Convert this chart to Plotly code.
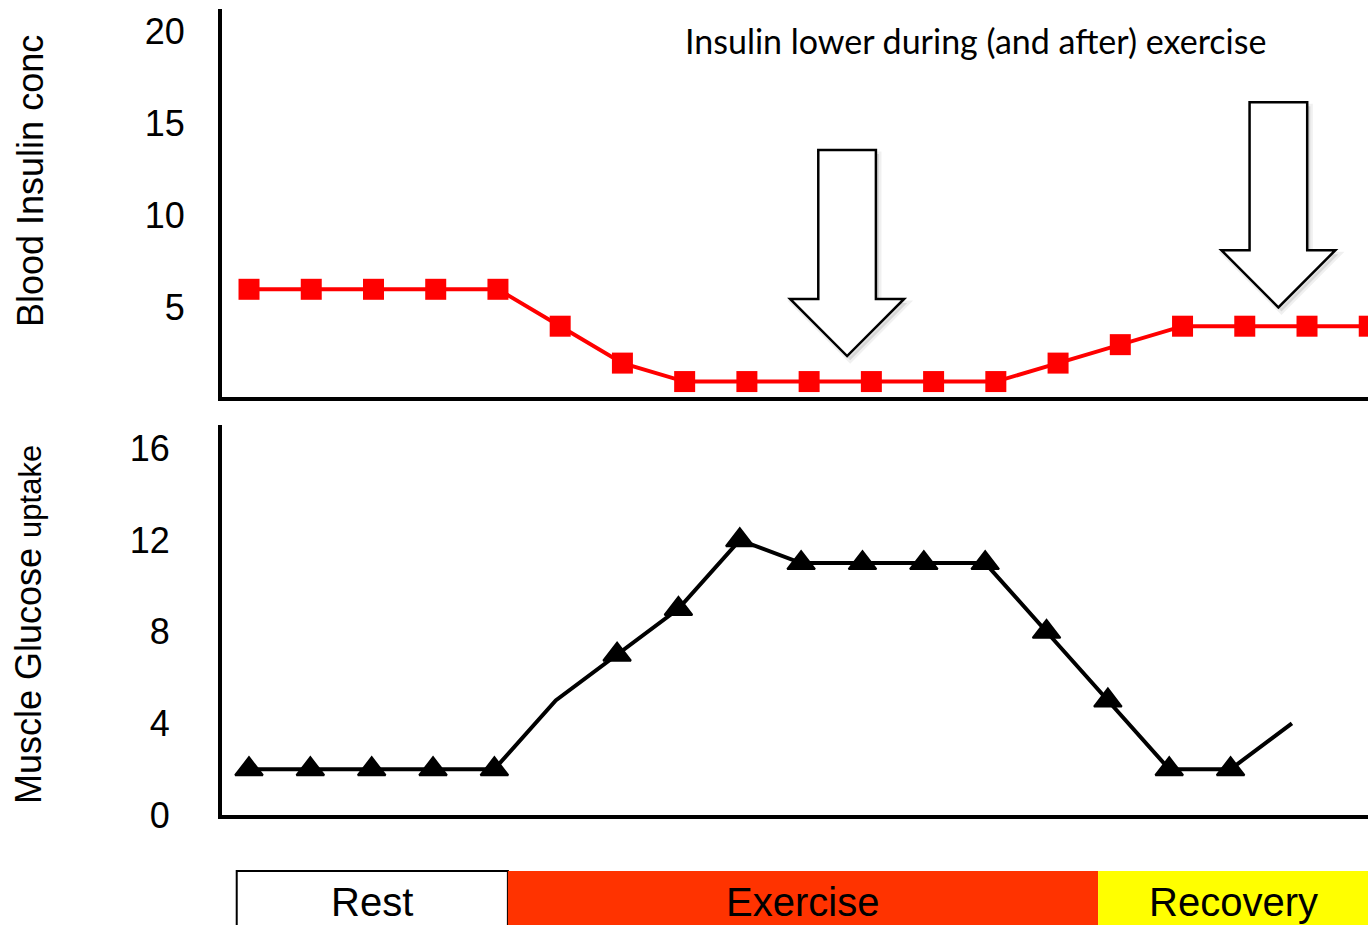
import plotly.graph_objects as go

# ---- data ----
time_top = list(range(19))
insulin = [6, 6, 6, 6, 6, 4, 2, 1, 1, 1, 1, 1, 1, 2, 3, 4, 4, 4, 4]

time_bottom = list(range(18))
glucose = [2, 2, 2, 2, 2, 5, 7, 9, 12, 11, 11, 11, 11, 8, 5, 2, 2, 4]
glucose_marker_shown = [1, 1, 1, 1, 1, 0, 1, 1, 1, 1, 1, 1, 1, 1, 1, 1, 1, 0]

top_ticks = [5, 10, 15, 20]
bottom_ticks = [0, 4, 8, 12, 16]

phase_labels = ["Rest", "Exercise", "Recovery"]
phase_colors = ["#FFFFFF", "#FF3300", "#FFFF00"]
phase_bounds = [-0.2, 4.22, 13.84, 18.3]   # in bottom-panel time units

arrow_centers = [9.61, 16.54]   # top-panel time units
arrow_tips = [2.38, 5.02]       # insulin units
arrow_tops = [13.55, 16.14]

title_text = "Insulin lower during (and after) exercise"

W, H = 1368, 925
FONT = "Liberation Sans, Arial, sans-serif"

fig = go.Figure()

fig.add_trace(go.Scatter(
    x=time_top, y=insulin, mode="lines+markers",
    line=dict(color="#FF0000", width=4),
    marker=dict(symbol="square", size=21, color="#FF0000", opacity=1),
    xaxis="x", yaxis="y", showlegend=False, cliponaxis=True,
))

fig.add_trace(go.Scatter(
    x=time_bottom, y=glucose, mode="lines+markers",
    line=dict(color="#000000", width=4),
    marker=dict(symbol="triangle-up", size=[24 * s for s in glucose_marker_shown],
                color="#000000", opacity=1, line=dict(color="#000000", width=2)),
    xaxis="x2", yaxis="y2", showlegend=False,
))

x_dom = [222 / W, 1.0]
top_dom = [(H - 397) / H, (H - 9) / H]
bot_dom = [(H - 815) / H, (H - 425) / H]

axis_common = dict(showgrid=False, zeroline=False, showline=True, automargin=False,
                   linecolor="black", linewidth=4, ticks="")

fig.update_layout(
    template="none",
    width=W, height=H, autosize=False,
    margin=dict(l=0, r=0, t=0, b=0, pad=0),
    paper_bgcolor="white", plot_bgcolor="white",
    font=dict(family=FONT, color="black"),
    xaxis=dict(domain=x_dom, range=[-0.434, 17.98], anchor="y",
               showticklabels=False, **axis_common),
    yaxis=dict(domain=top_dom, range=[0.163, 21.19], anchor="x",
               tickvals=top_ticks, ticktext=[str(v) for v in top_ticks],
               tickfont=dict(size=36, family=FONT, color="black"),
               ticklabelstandoff=26, **axis_common),
    xaxis2=dict(domain=x_dom, range=[-0.44, 18.24], anchor="y2",
                showticklabels=False, **axis_common),
    yaxis2=dict(domain=bot_dom, range=[0, 17.03], anchor="x2",
                tickvals=bottom_ticks, ticktext=[str(v) for v in bottom_ticks],
                tickfont=dict(size=36, family=FONT, color="black"),
                ticklabelstandoff=41, **axis_common),
)

# hollow block arrows (with a faint drop shadow)
hw, HW, head = 0.463, 0.916, 3.1
for cx, tip, top in zip(arrow_centers, arrow_tips, arrow_tops):
    sh = tip + head

    def arrow_path(dx, dy):
        return (f"M {cx-hw+dx},{top+dy} L {cx+hw+dx},{top+dy} L {cx+hw+dx},{sh+dy} "
                f"L {cx+HW+dx},{sh+dy} L {cx+dx},{tip+dy} L {cx-HW+dx},{sh+dy} "
                f"L {cx-hw+dx},{sh+dy} Z")

    fig.add_shape(type="path", path=arrow_path(0.05, -0.22), xref="x", yref="y",
                  fillcolor="rgba(0,0,0,0.10)", line=dict(color="rgba(0,0,0,0.06)", width=5),
                  layer="above")
    fig.add_shape(type="path", path=arrow_path(0, 0), xref="x", yref="y",
                  fillcolor="white", line=dict(color="black", width=2.5), layer="above")

# phase bar
bar_top = (H - 871) / H
for i, (lab, col) in enumerate(zip(phase_labels, phase_colors)):
    x0, x1 = phase_bounds[i], phase_bounds[i + 1]
    fig.add_shape(type="rect", xref="x2", yref="paper", x0=x0, x1=x1,
                  y0=-0.05, y1=bar_top, fillcolor=col,
                  line=dict(color="black" if i == 0 else col, width=2 if i == 0 else 0),
                  layer="above")
    fig.add_annotation(x=(x0 + min(x1, 18.24)) / 2, y=(H - 902) / H, xref="x2", yref="paper",
                       text=lab, showarrow=False,
                       font=dict(size=40, family=FONT, color="black"),
                       xanchor="center", yanchor="middle")

# axis titles
fig.add_annotation(x=30 / W, y=(H - 181) / H, xref="paper", yref="paper",
                   text="Blood Insulin conc", textangle=-90, showarrow=False,
                   font=dict(size=36, family=FONT, color="black"),
                   xanchor="center", yanchor="middle")
fig.add_annotation(x=28 / W, y=(H - 625) / H, xref="paper", yref="paper",
                   text="Muscle Glucose <span style='font-size:31px'>uptake</span>",
                   textangle=-90, showarrow=False,
                   font=dict(size=36, family=FONT, color="black"),
                   xanchor="center", yanchor="middle")

# top note
fig.add_annotation(x=975 / W, y=(H - 40) / H, xref="paper", yref="paper",
                   text=title_text, showarrow=False,
                   font=dict(size=34, family="Lato, Open Sans, sans-serif", color="black"),
                   xanchor="center", yanchor="middle")

fig.write_html("out.html")
